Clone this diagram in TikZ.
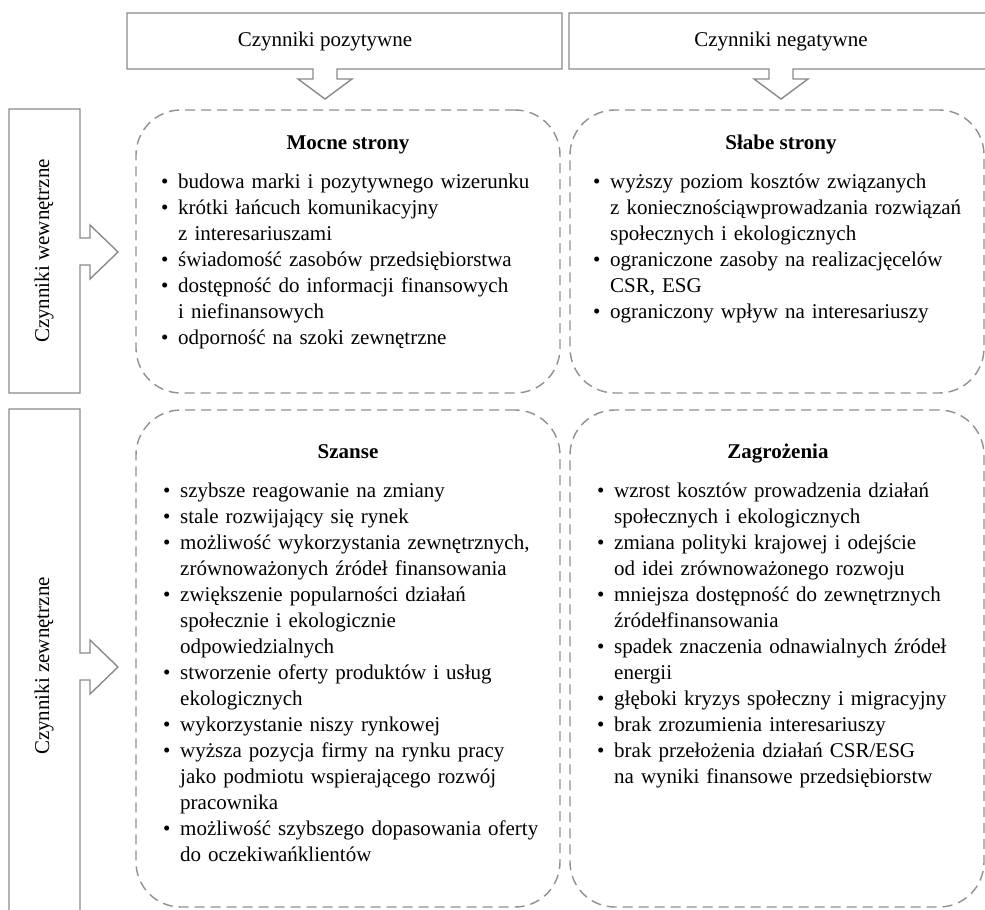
\documentclass[tikz,border=0pt]{standalone}
\usepackage{fontspec}
\setmainfont{Liberation Serif}
\definecolor{framegray}{HTML}{8A8A8A}
\definecolor{dashgray}{HTML}{909090}
\newlength\bind
\setlength\bind{17pt}
\newcommand\itm[1]{\hangindent=\bind\hangafter=1\noindent\makebox[\bind][l]{\textbullet}#1\par}
\newcommand\nl{\hfil\break}
\tikzset{
  frame/.style={draw=framegray, line width=1.4pt, line join=miter},
  dbox/.style={draw=dashgray, line width=1.4pt, dash pattern=on 10pt off 6pt, rounded corners=45pt, inner sep=0pt},
  ttl/.style={font=\fontsize{21}{26}\selectfont\bfseries, anchor=base, inner sep=0pt},
  lst/.style={anchor=base west, inner sep=0pt, text width=395pt, font=\fontsize{21}{26}\selectfont},
  hdr/.style={anchor=center, inner sep=0pt, font=\fontsize{21}{26}\selectfont},
}
\begin{document}
\begin{tikzpicture}[x=1pt,y=-1pt]
\useasboundingbox (0,0) rectangle (985,910);

% header boxes with block arrows
\draw[frame] (127,13) -- (562,13) -- (562,69) -- (337,69) -- (337,79) -- (352,79) -- (325,99) -- (298,79) -- (313,79) -- (313,69) -- (127,69) -- cycle;
\draw[frame] (569,13) -- (995,13) -- (995,69) -- (793,69) -- (793,79) -- (808,79) -- (781,99) -- (754,79) -- (769,79) -- (769,69) -- (569,69) -- cycle;
\draw[frame] (9,109) -- (80,109) -- (80,238) -- (90,238) -- (90,225) -- (118,252) -- (90,279) -- (90,265) -- (80,265) -- (80,393) -- (9,393) -- cycle;
\draw[frame] (9,409) -- (80,409) -- (80,653) -- (90,653) -- (90,640) -- (118,667) -- (90,694) -- (90,680) -- (80,680) -- (80,925) -- (9,925) -- cycle;

\node[hdr] (hpos) at (325,41) {Czynniki pozytywne};
\node[hdr] (hneg) at (781,41) {Czynniki negatywne};
\node[hdr, rotate=90] (hwew) at (44,251) {Czynniki wewnętrzne};
\node[hdr, rotate=90] (hzew) at (44,666) {Czynniki zewnętrzne};

% dashed quadrants
\node[dbox, minimum width=424pt, minimum height=283pt] (mocne) at (348,251.5) {};
\node[dbox, minimum width=414pt, minimum height=283pt] (slabe) at (777,251.5) {};
\node[dbox, minimum width=424pt, minimum height=497pt] (szanse) at (348,658.5) {};
\node[dbox, minimum width=414pt, minimum height=497pt] (zagr) at (777,658.5) {};

% titles
\node[ttl] (tmocne) at (348,149) {Mocne strony};
\node[ttl] (tslabe) at (781,149) {Słabe strony};
\node[ttl] (tszanse) at (348,458) {Szanse};
\node[ttl] (tzagr) at (778,458) {Zagrożenia};

% lists
\node[lst] (lmocne) at (161,188) {%
\itm{budowa marki i pozytywnego wizerunku}
\itm{krótki łańcuch komunikacyjny\nl z interesariuszami}
\itm{świadomość zasobów przedsiębiorstwa}
\itm{dostępność do informacji finansowych\nl i niefinansowych}
\itm{odporność na szoki zewnętrzne}};

\node[lst] (lslabe) at (593,188) {%
\itm{wyższy poziom kosztów związanych\nl z koniecznościąwprowadzania rozwiązań\nl społecznych i ekologicznych}
\itm{ograniczone zasoby na realizacjęcelów\nl CSR, ESG}
\itm{ograniczony wpływ na interesariuszy}};

\node[lst] (lszanse) at (163,497) {%
\itm{szybsze reagowanie na zmiany}
\itm{stale rozwijający się rynek}
\itm{możliwość wykorzystania zewnętrznych,\nl zrównoważonych źródeł finansowania}
\itm{zwiększenie popularności działań\nl społecznie i ekologicznie\nl odpowiedzialnych}
\itm{stworzenie oferty produktów i usług\nl ekologicznych}
\itm{wykorzystanie niszy rynkowej}
\itm{wyższa pozycja firmy na rynku pracy\nl jako podmiotu wspierającego rozwój\nl pracownika}
\itm{możliwość szybszego dopasowania oferty\nl do oczekiwańklientów}};

\node[lst] (lzagr) at (597,497) {%
\itm{wzrost kosztów prowadzenia działań\nl społecznych i ekologicznych}
\itm{zmiana polityki krajowej i odejście\nl od idei zrównoważonego rozwoju}
\itm{mniejsza dostępność do zewnętrznych\nl źródełfinansowania}
\itm{spadek znaczenia odnawialnych źródeł\nl energii}
\itm{głęboki kryzys społeczny i migracyjny}
\itm{brak zrozumienia interesariuszy}
\itm{brak przełożenia działań CSR/ESG\nl na wyniki finansowe przedsiębiorstw}};
\end{tikzpicture}
\end{document}
